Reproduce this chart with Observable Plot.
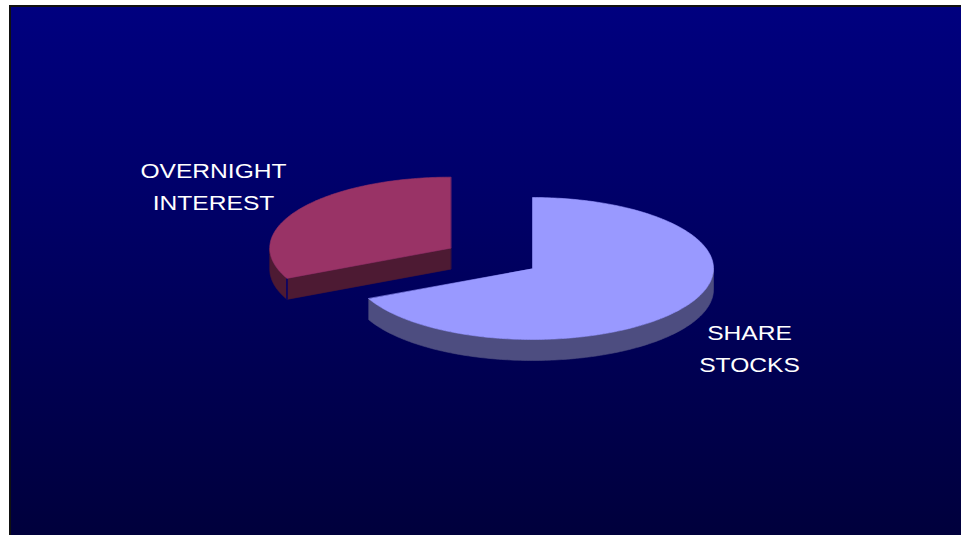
<!DOCTYPE html>
<html><head><meta charset="utf-8">
<script src="https://cdn.jsdelivr.net/npm/d3@7"></script>
<script src="https://cdn.jsdelivr.net/npm/@observablehq/plot@0.6"></script>
<style>
html,body{margin:0;padding:0;background:#fff;width:961px;height:535px;overflow:hidden}
#frame{position:absolute;left:9px;top:5px;width:950px;height:528px;border-left:2px solid #111;border-top:2px solid #111;background:linear-gradient(to bottom,#00007f 0%,#000066 40%,#00003c 100%);}
#chart{position:absolute;left:0;top:0}
</style></head><body><div id="frame"></div><div id="chart"></div>
<script>
// ---- data ----
const categories = ["SHARE STOCKS", "OVERNIGHT INTEREST"];
const values = [68, 32];
// ---- styles / layout ----
const topColors = ["#9999FF", "#993366"];
const sideColors = ["#4D4D80", "#4D1A33"];
const explode = [0, 0.535];
const labelX = [749, 213];
const labelY = [345, 183];
const cx = 532, cy = 268, rx = 181, ry = 71, depth = 21;

const pieArcs = d3.pie().sort(null).value(d => d)(values);
const slices = pieArcs.map((p, i) => {
  const mid = (p.startAngle + p.endAngle) / 2;
  return {i, a0: p.startAngle, a1: p.endAngle,
    ox: explode[i] * rx * Math.sin(mid), oy: -explode[i] * ry * Math.cos(mid)};
});
const pt = (s, a, dz = 0) => ({x: cx + s.ox + rx * Math.sin(a), y: cy + s.oy - ry * Math.cos(a) + dz});
const ctr = (s, dz = 0) => ({x: cx + s.ox, y: cy + s.oy + dz});
const arc = (s, a0, a1, dz) => {
  const n = Math.max(2, Math.ceil(Math.abs(a1 - a0) / (Math.PI / 180)));
  return d3.range(n + 1).map(k => pt(s, a0 + (a1 - a0) * k / n, dz));
};

const marks = [];
const poly = (pts, color) => marks.push(Plot.line(pts, {x: "x", y: "y", fill: color, stroke: color, strokeWidth: 0.6, curve: "linear-closed"}));

[...slices].sort((a, b) => a.oy - b.oy).forEach(s => {
  const side = sideColors[s.i], top = topColors[s.i];
  const s0 = Math.max(s.a0, Math.PI / 2), t0 = Math.min(s.a1, 3 * Math.PI / 2);
  if (t0 > s0) poly([...arc(s, s0, t0, 0), ...arc(s, t0, s0, depth)], side);
  if (Math.sin(s.a0) < -1e-6) {
    poly([ctr(s), pt(s, s.a0), pt(s, s.a0, depth), ctr(s, depth)], side);
    marks.push(Plot.line([pt(s, s.a0), pt(s, s.a0, depth)], {x: "x", y: "y", stroke: "#00006e", strokeWidth: 1.5}));
  }
  if (Math.sin(s.a1) > 1e-6) poly([ctr(s), pt(s, s.a1), pt(s, s.a1, depth), ctr(s, depth)], side);
  poly([ctr(s), ...arc(s, s.a0, s.a1, 0)], top);
});

const labels = categories.map((c, i) => ({text: c.replace(" ", "\n"), x: labelX[i], y: labelY[i]}));
marks.push(Plot.text(labels, {x: "x", y: "y", text: "text", fill: "white", fontSize: 20, lineHeight: 1.6, textAnchor: "middle"}));

const chart = Plot.plot({
  width: 961, height: 535, margin: 0,
  x: {domain: [0, 961], range: [0, 961], axis: null},
  y: {domain: [0, 535], range: [0, 535], axis: null},
  style: {background: "transparent", fontFamily: "'Liberation Sans', Arial, sans-serif"},
  marks
});
document.getElementById("chart").appendChild(chart);
d3.select(chart).selectAll("text").each(function() {
  const t = this.getAttribute("transform");
  if (t && t.includes("translate")) this.setAttribute("transform", t + " scale(1.23,1)");
});
</script></body></html>
